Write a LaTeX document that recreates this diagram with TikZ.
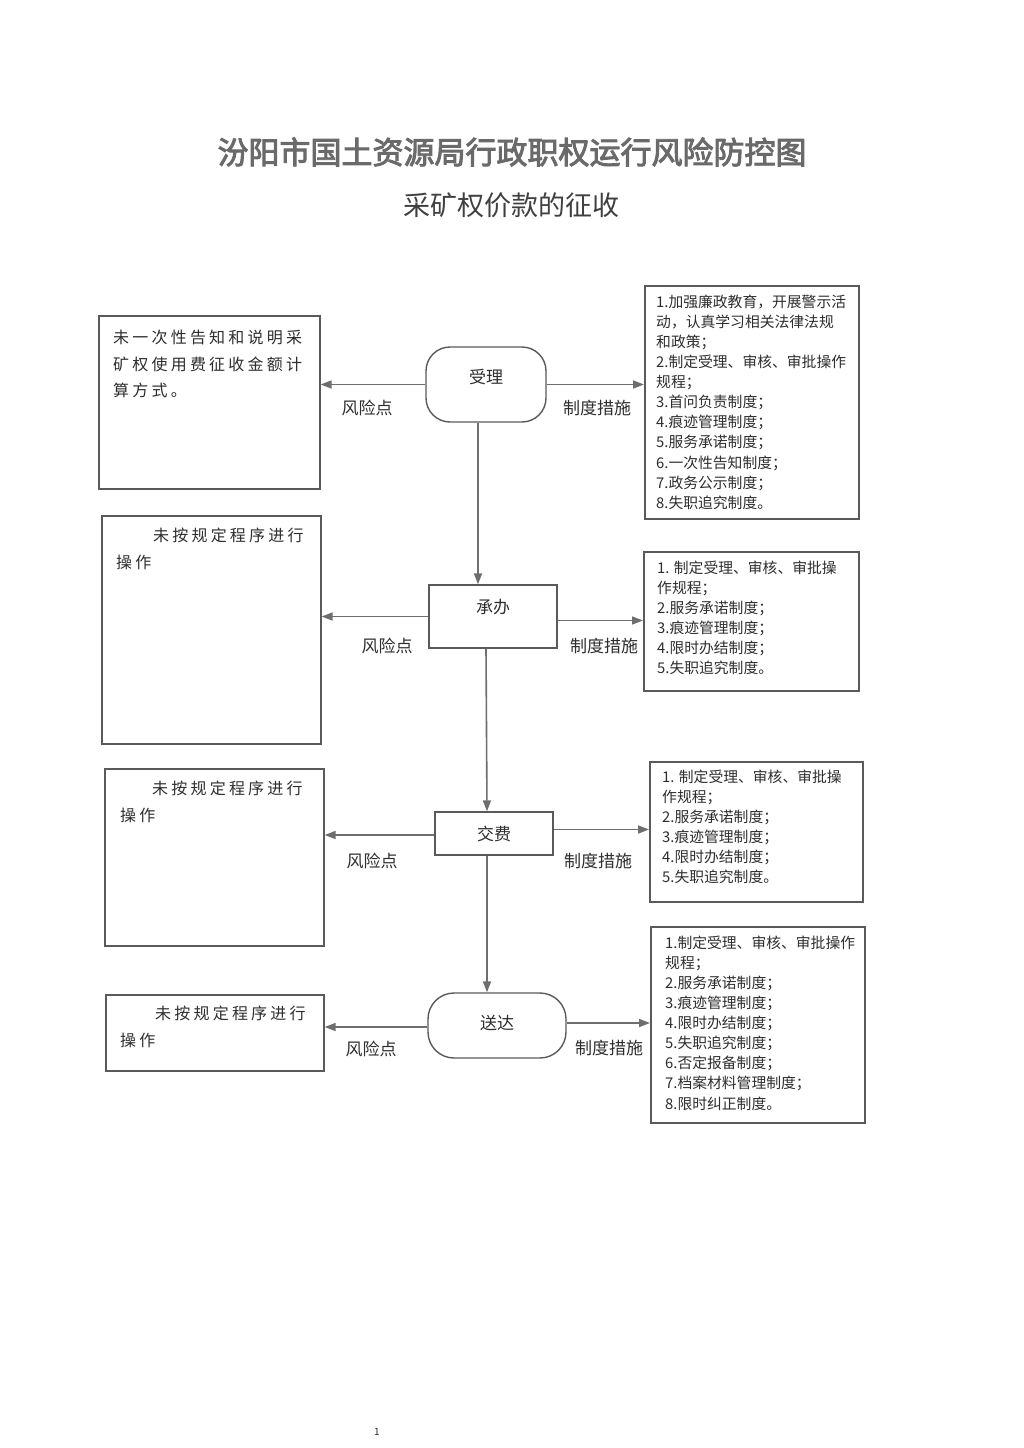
\documentclass[tikz,border=0pt]{standalone}
\usepackage{fontspec}
\setmainfont{Noto Sans CJK SC}
\newfontfamily\cjkwide[LetterSpace=20]{Noto Sans CJK SC}
\newfontfamily\cjktitle[FakeBold=3]{Noto Sans CJK SC}
\usetikzlibrary{arrows.meta}
\definecolor{linegray}{HTML}{6E6E6E}
\definecolor{boxgray}{HTML}{5A5A5A}
\definecolor{txtgray}{HTML}{2E2E2E}
\definecolor{titlegray}{HTML}{6A6A6A}
\begin{document}
\begin{tikzpicture}[x=1pt,y=-1pt,
  every node/.style={text=txtgray},
  boxn/.style={draw=boxgray, line width=1.6pt, inner sep=0pt, anchor=north west},
  mtext/.style={anchor=north west, align=left, inner sep=0pt, font=\fontsize{14.8}{20.1}\selectfont},
  rtext/.style={anchor=north west, align=left, inner sep=0pt, font=\cjkwide\fontsize{16}{26.5}\selectfont},
  flowround/.style={draw=boxgray, line width=1.4pt, rounded corners=24pt, inner sep=0pt, font=\fontsize{17}{17}\selectfont},
  flowrect/.style={draw=boxgray, line width=1.4pt, inner sep=0pt, font=\fontsize{17}{17}\selectfont},
  lab/.style={font=\fontsize{17}{17}\selectfont, inner sep=0pt},
  arr/.style={draw=linegray, line width=1.6pt, -{Triangle[length=11pt,width=8pt]}, color=linegray}
]
\useasboundingbox[fill=white] (0,0) rectangle (1024,1448);

% titles
\node[text=titlegray, inner sep=0pt] (title) at (512,152) {\cjktitle\fontsize{31}{31}\selectfont 汾阳市国土资源局行政职权运行风险防控图};
\node[inner sep=0pt, text=black!75] (subtitle) at (511,205) {\fontsize{27}{27}\selectfont 采矿权价款的征收};

% flow nodes
\node[flowround, minimum width=120pt, minimum height=75pt] (shouli) at (486,384.5) {\raisebox{16pt}{受理}};
\node[flowrect, minimum width=128pt, minimum height=63pt] (chengban) at (493,616.5) {\raisebox{20pt}{承办}};
\node[flowrect, minimum width=118pt, minimum height=43pt] (jiaofei) at (494,833.5) {交费};
\node[flowround, minimum width=138pt, minimum height=65pt, rounded corners=26pt] (songda) at (497,1025.5) {\raisebox{6pt}{送达}};

% risk boxes
\node[boxn, minimum width=221pt, minimum height=173pt] (r1) at (98,315) {};
\node[rtext] (r1t) at ([xshift=15pt,yshift=-15pt]r1.north west) {未一次性告知和说明采\\矿权使用费征收金额计\\算方式。};
\node[boxn, minimum width=219pt, minimum height=228pt] (r2) at (101,515) {};
\node[rtext] (r2t) at ([xshift=15pt,yshift=-13pt]r2.north west) {\hspace*{37pt}未按规定程序进行\\操作};
\node[boxn, minimum width=219pt, minimum height=177pt] (r3) at (104,768) {};
\node[rtext] (r3t) at ([xshift=16pt,yshift=-13pt]r3.north west) {\hspace*{32pt}未按规定程序进行\\操作};
\node[boxn, minimum width=218pt, minimum height=76pt] (r4) at (105,994) {};
\node[rtext] (r4t) at ([xshift=15pt,yshift=-12pt]r4.north west) {\hspace*{35pt}未按规定程序进行\\操作};

% measure boxes
\node[boxn, minimum width=214pt, minimum height=233pt] (m1) at (644,285) {};
\node[mtext] (m1t) at ([xshift=12pt,yshift=-9.5pt]m1.north west) {1.加强廉政教育，开展警示活\\动，认真学习相关法律法规\\和政策；\\2.制定受理、审核、审批操作\\规程；\\3.首问负责制度；\\4.痕迹管理制度；\\5.服务承诺制度；\\6.一次性告知制度；\\7.政务公示制度；\\8.失职追究制度。};
\node[boxn, minimum width=215pt, minimum height=139pt] (m2) at (643,551) {};
\node[mtext] (m2t) at ([xshift=14pt,yshift=-9.5pt]m2.north west) {1. 制定受理、审核、审批操\\作规程；\\2.服务承诺制度；\\3.痕迹管理制度；\\4.限时办结制度；\\5.失职追究制度。};
\node[boxn, minimum width=213pt, minimum height=140pt] (m3) at (649,761) {};
\node[mtext] (m3t) at ([xshift=13pt,yshift=-8.5pt]m3.north west) {1. 制定受理、审核、审批操\\作规程；\\2.服务承诺制度；\\3.痕迹管理制度；\\4.限时办结制度；\\5.失职追究制度。};
\node[boxn, minimum width=214pt, minimum height=196pt] (m4) at (650,926) {};
\node[mtext] (m4t) at ([xshift=15pt,yshift=-9.5pt]m4.north west) {1.制定受理、审核、审批操作\\规程；\\2.服务承诺制度；\\3.痕迹管理制度；\\4.限时办结制度；\\5.失职追究制度；\\6.否定报备制度；\\7.档案材料管理制度；\\8.限时纠正制度。};

% vertical flow arrows
\draw[arr] ([xshift=-8pt]shouli.south) -- ([xshift=-15pt]chengban.north);
\draw[arr] ([xshift=-7pt]chengban.south) -- ([xshift=-7pt]jiaofei.north);
\draw[arr] ([xshift=-7pt]jiaofei.south) -- ([xshift=-10pt]songda.north);

% horizontal arrows
\draw[arr] (shouli.west) -- (shouli.west -| r1.east);
\draw[arr] (shouli.east) -- (shouli.east -| m1.west);
\draw[arr] (chengban.west) -- (chengban.west -| r2.east);
\draw[arr] ([yshift=-4pt]chengban.east) -- ([yshift=-4pt]chengban.east -| m2.west);
\draw[arr] ([yshift=-1.5pt]jiaofei.west) -- ([yshift=-1.5pt]jiaofei.west -| r3.east);
\draw[arr] ([yshift=4pt]jiaofei.east) -- ([yshift=4pt]jiaofei.east -| m3.west);
\draw[arr] ([yshift=-1.5pt]songda.west) -- ([yshift=-1.5pt]songda.west -| r4.east);
\draw[arr] ([yshift=2.5pt]songda.east) -- ([yshift=2.5pt]songda.east -| m4.west);

% labels
\node[lab] (l1a) at (367,408) {风险点};
\node[lab] (l1b) at (597,408) {制度措施};
\node[lab] (l2a) at (387,646) {风险点};
\node[lab] (l2b) at (604,646) {制度措施};
\node[lab] (l3a) at (372,861) {风险点};
\node[lab] (l3b) at (598,861) {制度措施};
\node[lab] (l4a) at (371,1049) {风险点};
\node[lab] (l4b) at (609,1048) {制度措施};

% page number
\node[inner sep=0pt, font=\fontsize{10}{10}\selectfont] (pg) at (377,1432) {1};
\end{tikzpicture}
\end{document}
